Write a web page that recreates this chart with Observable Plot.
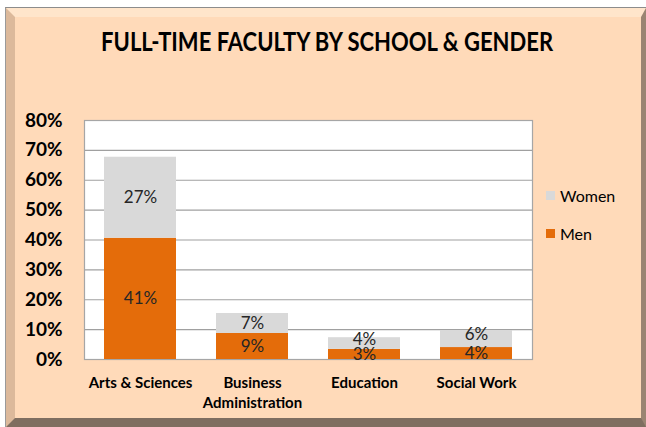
<!DOCTYPE html>
<html>
<head>
<meta charset="utf-8">
<script src="https://cdn.jsdelivr.net/npm/d3@7"></script>
<script src="https://cdn.jsdelivr.net/npm/@observablehq/plot@0.6"></script>
<style>
  html, body { margin: 0; padding: 0; background: #ffffff; }
  #root { position: relative; width: 646px; height: 427px; overflow: hidden; font-family: Lato, "Open Sans", sans-serif; }
  #outer { position: absolute; left: 5px; top: 7px; width: 641px; height: 420px; box-sizing: border-box;
           border-top: 1px solid #8c8c8c; border-left: 1px solid #9a9a9a; }
  #bevel { position: absolute; left: 0; top: 0; right: 0; bottom: 0; box-sizing: border-box; background: #FFDAB9;
           border-style: solid; border-width: 9px 5px 9px 9px;
           border-color: #FFE5CB #9A8472 #7F6E60 #DCB99B; }
  #chart { position: absolute; left: 0; top: 0; }
  #title { position: absolute; left: 0; top: 28px; width: 654px; text-align: center; font-weight: bold; font-size: 26px;
           line-height: 26px; color: #000; white-space: nowrap; }
  #title span { display: inline-block; transform-origin: center; }
  #legend { position: absolute; left: 546px; top: 185px; font-size: 16px; color: #000; }
  #legend .item { display: flex; align-items: center; height: 20px; margin-bottom: 18px; }
  #legend .sw { width: 9px; height: 9px; margin-right: 5px; }
</style>
</head>
<body>
<div id="root">
  <div id="outer"><div id="bevel"></div></div>
  <div id="chart"></div>
  <div id="title"><span>FULL-TIME FACULTY BY SCHOOL &amp; GENDER</span></div>
  <div id="legend"></div>
</div>
<script>
const categories = ["Arts & Sciences", "Business\nAdministration", "Education", "Social Work"];
const genders = ["Men", "Women"];
const men = [40.6, 8.7, 3.4, 4.0];
const women = [27.1, 6.7, 3.9, 5.7];
const yTicks = [0, 10, 20, 30, 40, 50, 60, 70, 80];
const legendOrder = ["Women", "Men"];
const colors = ["#D9D9D9", "#E46C0A"];

const data = [];
genders.forEach(g => categories.forEach((c, i) => {
  data.push({school: c, gender: g, value: g === "Men" ? men[i] : women[i]});
}));

// small top segments get their label nudged up (as in the reference)
const isSmallTop = d => d.gender === "Women" && d.value < 6;
const label = d => Math.round(d.value) + "%";

const chart = Plot.plot({
  width: 646,
  height: 427,
  marginLeft: 84,
  marginRight: 114,
  marginTop: 120,
  marginBottom: 68,
  style: {background: "transparent", fontFamily: "Lato, 'Open Sans', sans-serif", color: "#000"},
  x: {domain: categories, paddingInner: 0.36, paddingOuter: 0.18, label: null},
  y: {domain: [0, 80], label: null},
  color: {domain: legendOrder, range: colors},
  marks: [
    Plot.frame({fill: "white", stroke: "none"}),
    Plot.gridY(yTicks, {stroke: "#A0A0A0", strokeOpacity: 1, strokeWidth: 1.2}),
    Plot.frame({stroke: "#A6A6A6", strokeWidth: 1.2}),
    Plot.barY(data, {x: "school", y: "value", fill: "gender", z: "gender"}),
    Plot.text(data, Plot.stackY({x: "school", y: "value", z: "gender",
      text: d => isSmallTop(d) ? null : label(d), fontSize: 17, fill: "#262626"})),
    Plot.text(data, Plot.stackY({x: "school", y: "value", z: "gender",
      text: d => isSmallTop(d) ? label(d) : null, fontSize: 17, fill: "#262626", dy: -4})),
    Plot.axisY(yTicks, {tickSize: 0, tickPadding: 22, fontSize: 19, fontWeight: "bold",
      tickFormat: d => d + "%", label: null}),
    Plot.axisX({tickSize: 0, tickPadding: 14, fontSize: 15, fontWeight: "bold", lineHeight: 1.33, label: null})
  ]
});
document.getElementById("chart").appendChild(chart);

// title fit to reference width
const span = document.querySelector("#title span");
const w = span.getBoundingClientRect().width;
span.style.transform = `scaleX(${452 / w})`;

// legend from the chart's color scale
const color = chart.scale("color");
const leg = document.getElementById("legend");
legendOrder.forEach(g => {
  const item = document.createElement("div");
  item.className = "item";
  const sw = document.createElement("div");
  sw.className = "sw";
  sw.style.background = color.range[color.domain.indexOf(g)];
  const t = document.createElement("span");
  t.textContent = g;
  item.appendChild(sw);
  item.appendChild(t);
  leg.appendChild(item);
});
</script>
</body>
</html>
